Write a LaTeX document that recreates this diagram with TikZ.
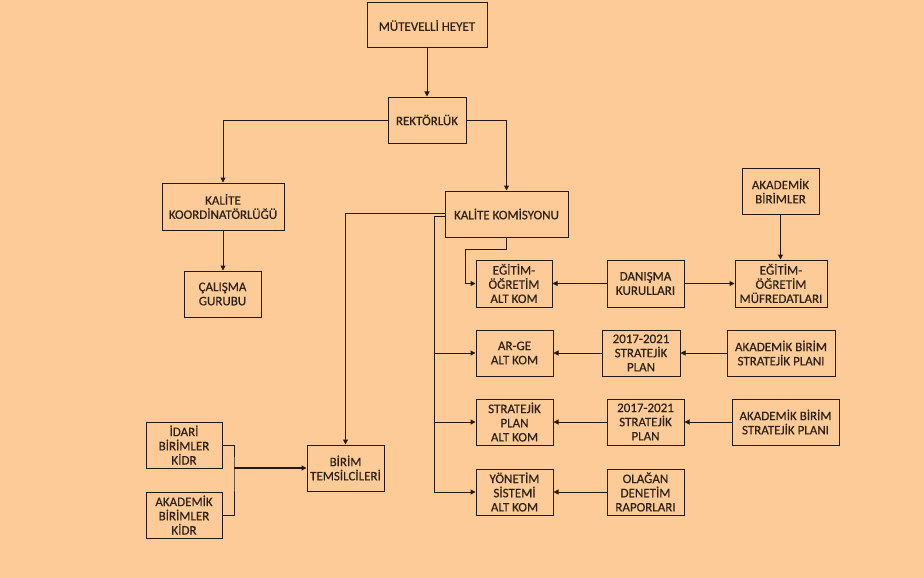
\documentclass[tikz,border=0pt]{standalone}
\usepackage{fontspec}
\setmainfont{Carlito}
\newfontfamily\boxfont{Carlito}[UprightFeatures={FakeBold=0.4}]
\usetikzlibrary{arrows.meta}
\definecolor{bgpeach}{RGB}{253,203,152}
\definecolor{ink}{RGB}{35,25,15}
\definecolor{txt}{RGB}{45,33,22}
\tikzset{
  box/.style={draw=ink, line width=1pt, inner sep=1pt, align=center,
    text=txt, font=\boxfont\fontsize{13}{14.2}\selectfont},
  conn/.style={draw=ink, line width=1pt},
  arr/.style={conn, -{Triangle[length=5pt,width=5pt]}}
}
\begin{document}
\begin{tikzpicture}[x=1pt,y=-1pt]
\fill[bgpeach] (0,0) rectangle (924,578);
\useasboundingbox (0,0) rectangle (924,578);
% nodes
\node[box, minimum width=120pt, minimum height=45pt] (mh) at (427,25.5) {MÜTEVELLİ HEYET};
\node[box, minimum width=78pt, minimum height=46pt] (rek) at (427,120) {REKTÖRLÜK};
\node[box, minimum width=122pt, minimum height=47pt] (kk) at (223,206.5) {KALİTE\\KOORDİNATÖRLÜĞÜ};
\node[box, minimum width=77pt, minimum height=46pt] (cal) at (222.5,294) {ÇALIŞMA\\GURUBU};
\node[box, minimum width=123pt, minimum height=46pt] (kom) at (506.5,214) {KALİTE KOMİSYONU};
\node[box, minimum width=76pt, minimum height=47pt] (egit) at (514,283.5) {EĞİTİM-\\ÖĞRETİM\\ALT KOM};
\node[box, minimum width=77pt, minimum height=47pt] (dan) at (645.5,283.5) {DANIŞMA\\KURULLARI};
\node[box, minimum width=92pt, minimum height=47pt] (muf) at (781,283.5) {EĞİTİM-\\ÖĞRETİM\\MÜFREDATLARI};
\node[box, minimum width=77pt, minimum height=46pt] (akb) at (780.5,191) {AKADEMİK\\BİRİMLER};
\node[box, minimum width=77pt, minimum height=46pt] (arge) at (514.5,353) {AR-GE\\ALT KOM};
\node[box, minimum width=78pt, minimum height=46pt] (sp1) at (641,353) {2017-2021\\STRATEJİK\\PLAN};
\node[box, minimum width=108pt, minimum height=46pt] (akp1) at (781,353) {AKADEMİK BİRİM\\STRATEJİK PLANI};
\node[box, minimum width=77pt, minimum height=46pt] (strat) at (514.5,422) {STRATEJİK\\PLAN\\ALT KOM};
\node[box, minimum width=77pt, minimum height=46pt] (sp2) at (645.5,422) {2017-2021\\STRATEJİK\\PLAN};
\node[box, minimum width=107pt, minimum height=46pt] (akp2) at (785.5,422) {AKADEMİK BİRİM\\STRATEJİK PLANI};
\node[box, minimum width=77pt, minimum height=46pt] (yon) at (514.5,492) {YÖNETİM\\SİSTEMİ\\ALT KOM};
\node[box, minimum width=77pt, minimum height=46pt] (ola) at (645.5,492) {OLAĞAN\\DENETİM\\RAPORLARI};
\node[box, minimum width=76pt, minimum height=46pt] (idari) at (184,445) {İDARİ\\BİRİMLER\\KİDR};
\node[box, minimum width=76pt, minimum height=46pt] (akk) at (184,515) {AKADEMİK\\BİRİMLER\\KİDR};
\node[box, minimum width=77pt, minimum height=46pt] (birim) at (345.5,468) {BİRİM\\TEMSİLCİLERİ};
% coordinates
\coordinate (bus) at (434,492);
\coordinate (k1) at (465,249);
\coordinate (j) at (234,468);
% connectors
\draw[arr] (mh.south) -- (rek.north);
\draw[arr] (rek.west) -| (kk.north);
\draw[arr] (rek.east) -| (kom.north);
\draw[arr] (kk.south) -- (kk.south |- cal.north);
\draw[arr] ([yshift=1pt]kom.west) -| (birim.north);
\draw[arr] ([yshift=-2pt]kom.west) -| (bus) -- (yon.west);
\draw[arr] (arge.west -| bus) -- (arge.west);
\draw[arr] (strat.west -| bus) -- (strat.west);
\draw[arr] (kom.south) |- (k1) |- (egit.west);
\draw[arr] (dan.west) -- (egit.east);
\draw[arr] (dan.east) -- (muf.west);
\draw[arr] (akb.south) -- (akb.south |- muf.north);
\draw[arr] (sp1.west) -- (arge.east);
\draw[arr] (akp1.west) -- (sp1.east);
\draw[arr] (sp2.west) -- (strat.east);
\draw[arr] (akp2.west) -- (sp2.east);
\draw[arr] (ola.west) -- (yon.east);
\draw[conn] (idari.east) -| (j) |- (akk.east);
\draw[arr, line width=1.5pt] (j) -- (birim.west);
\end{tikzpicture}
\end{document}
